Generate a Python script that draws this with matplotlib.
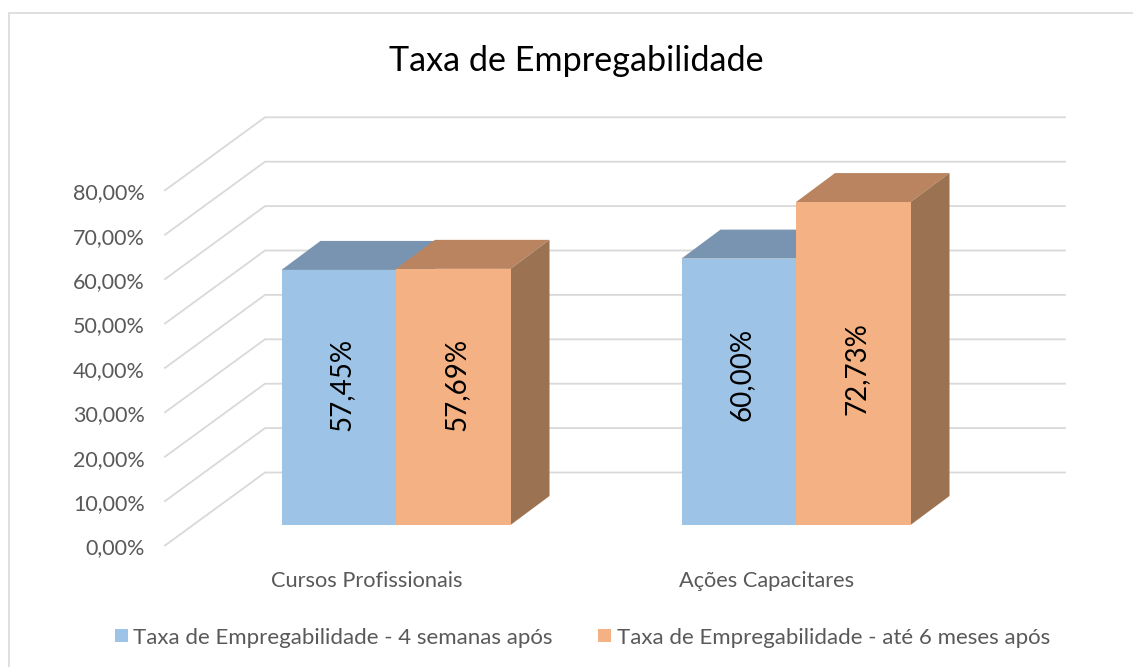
import matplotlib
matplotlib.use('Agg')
import matplotlib.pyplot as plt
from matplotlib.patches import Polygon, Rectangle

plt.rcParams['font.family'] = ['Lato', 'DejaVu Sans']

categories = ['Cursos Profissionais', 'Ações Capacitares']
series_names = ['Taxa de Empregabilidade - 4 semanas após', 'Taxa de Empregabilidade - até 6 meses após']
values_4sem = [57.45, 60.00]
values_6mes = [57.69, 72.73]
labels_4sem = ['57,45%', '60,00%']
labels_6mes = ['57,69%', '72,73%']
ticks = [0, 10, 20, 30, 40, 50, 60, 70, 80]
tick_labels = ['0,00%', '10,00%', '20,00%', '30,00%', '40,00%', '50,00%', '60,00%', '70,00%', '80,00%']

W, H = 1133, 667
PX = 400.0     # pixels per category
PY = 4.44      # pixels per percent
X0, Y0 = 165, 545.5

fig = plt.figure(figsize=(W / 100, H / 100), dpi=100)
ax = fig.add_axes([0, 0, 1, 1])
ax.set_xlim(-X0 / PX, (W - X0) / PX)
ax.set_ylim((Y0 - H) / PY, Y0 / PY)
ax.axis('off')

# depth of the walls and of the bars (the fake 3d)
wall_dx, wall_dy = 100 / PX, 73 / PY
bar_dx, bar_dy = 39 / PX, 29 / PY
shift_x, shift_y = 31 / PX, 20.5 / PY
bar_w = 114.5 / PX
grid = '#d9d9d9'
text_c = '#595959'

# data labels do not sit at the middle of the bars in the original (pixels up)
nudge_4sem = [13, 17]
nudge_6mes = [12, -5]


def px(x, y):
    # pixel position -> data position, only for the frame around the chart
    return (x - X0) / PX, (Y0 - y) / PY


# frame runs off the right and bottom of the picture
ax.add_patch(Rectangle(px(9, 700), 1200 / PX, 687.5 / PY, fill=False, ec=grid, lw=1.2))

for t, lab in zip(ticks, tick_labels):
    ax.plot([0, wall_dx, 2 + wall_dx], [t, t + wall_dy, t + wall_dy], color=grid, lw=1.3, zorder=1,
            solid_joinstyle='miter')
    ax.text(-20 / PX, t - 3 / PY, lab, ha='right', va='center', fontsize=15.5, color=text_c)


def bar(x, v, front, top, side, zorder):
    y = shift_y
    h = y + v
    ax.add_patch(Polygon([(x, h), (x + bar_dx, h + bar_dy), (x + bar_w + bar_dx, h + bar_dy), (x + bar_w, h)],
                         fc=top, ec='none', zorder=zorder))
    ax.add_patch(Polygon([(x + bar_w, y), (x + bar_w + bar_dx, y + bar_dy), (x + bar_w + bar_dx, h + bar_dy), (x + bar_w, h)],
                         fc=side, ec='none', zorder=zorder))
    ax.add_patch(Rectangle((x, y), bar_w, v, fc=front, ec='none', zorder=zorder + 0.1))


for i in range(len(categories)):
    x1 = i + 0.5 - bar_w + shift_x
    x2 = i + 0.5 + shift_x
    bar(x1, values_4sem[i], '#9dc3e6', '#7994b0', '#7994b0', 2)
    bar(x2, values_6mes[i], '#f4b183', '#b9845f', '#9b7252', 3)
    ax.text(x1 + bar_w / 2 + 3 / PX, shift_y + values_4sem[i] / 2 + nudge_4sem[i] / PY, labels_4sem[i], rotation=90,
            ha='center', va='center', fontsize=20, color='black', zorder=5)
    ax.text(x2 + bar_w / 2 + 3 / PX, shift_y + values_6mes[i] / 2 + nudge_6mes[i] / PY, labels_6mes[i], rotation=90,
            ha='center', va='center', fontsize=20, color='black', zorder=5)
    ax.text(i + 0.5 + 1.5 / PX, -8.0, categories[i], ha='center', va='center', fontsize=15.65, color=text_c)

ax.text(*px(576, 61), 'Taxa de Empregabilidade', ha='center', va='center', fontsize=24.6, color='black')

# legend
ax.add_patch(Rectangle(px(115, 642), 13 / PX, 13 / PY, fc='#9dc3e6', ec='none'))
ax.text(*px(133, 638), series_names[0], ha='left', va='center', fontsize=16, color=text_c)
ax.add_patch(Rectangle(px(598, 642), 13 / PX, 13 / PY, fc='#f4b183', ec='none'))
ax.text(*px(617, 638), series_names[1], ha='left', va='center', fontsize=16, color=text_c)

fig.savefig('out.png', dpi=100)
